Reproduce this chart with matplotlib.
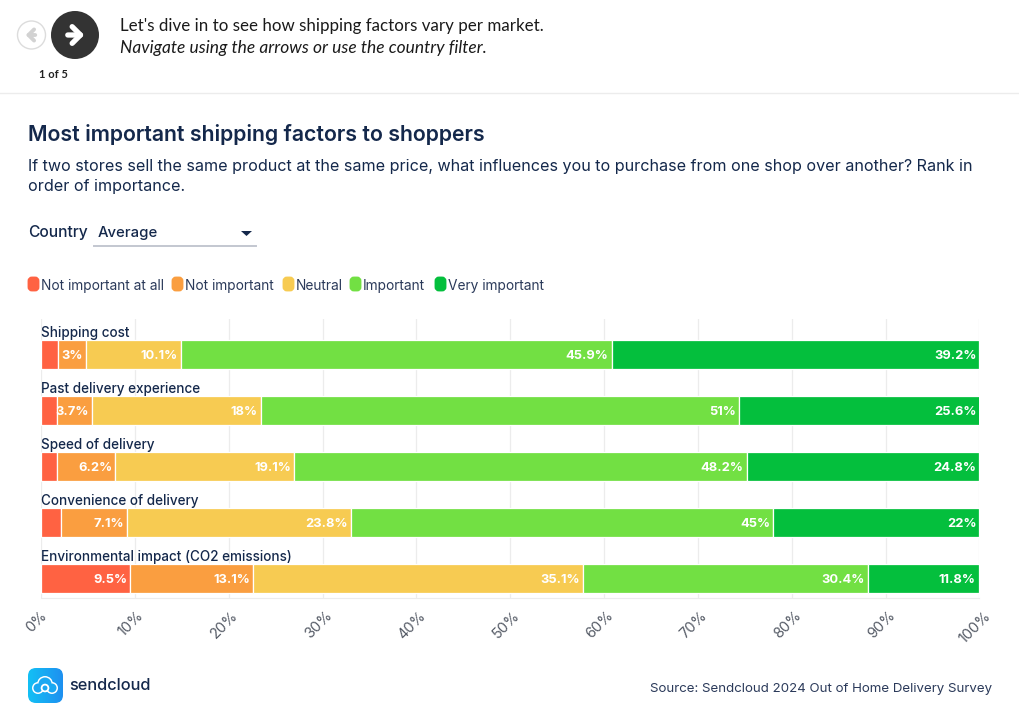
import matplotlib
matplotlib.use('Agg')
import matplotlib.pyplot as plt
from matplotlib.patches import Circle, FancyBboxPatch, Polygon
from matplotlib.transforms import ScaledTranslation
import numpy as np

factors = ['Shipping cost', 'Past delivery experience', 'Speed of delivery',
           'Convenience of delivery', 'Environmental impact (CO2 emissions)']
levels = ['Not important at all', 'Not important', 'Neutral', 'Important', 'Very important']
colors = ['#ff6242', '#fa9e40', '#f7cb52', '#72e043', '#04bf3d']

not_at_all = [1.8, 1.7, 1.7, 2.1, 9.5]
not_important = [3, 3.7, 6.2, 7.1, 13.1]
neutral = [10.1, 18, 19.1, 23.8, 35.1]
important = [45.9, 51, 48.2, 45, 30.4]
very_important = [39.2, 25.6, 24.8, 22, 11.8]
series = [not_at_all, not_important, neutral, important, very_important]

ticks = [0, 10, 20, 30, 40, 50, 60, 70, 80, 90, 100]

W, H = 1020, 721
navy = '#14284b'
plt.rcParams['font.family'] = ['Inter', 'DejaVu Sans']

fig = plt.figure(figsize=(W / 100, H / 100), dpi=100)

# page furniture, drawn in pixel coordinates
bg = fig.add_axes([0, 0, 1, 1])
bg.set_xlim(0, W)
bg.set_ylim(H, 0)
bg.axis('off')

bg.plot([0, W], [92.5, 92.5], color='#ececec', lw=1)
bg.add_patch(Circle((31.5, 35), 14, fc='white', ec='#dcdcdc', lw=1))
bg.annotate('', xy=(23, 35), xytext=(38, 35),
            arrowprops=dict(arrowstyle='->,head_width=0.4,head_length=0.4', color='#d2d2d2', lw=2.8))
bg.add_patch(Circle((75, 35), 24, fc='#333333', ec='none'))
bg.annotate('', xy=(87, 35), xytext=(65, 35),
            arrowprops=dict(arrowstyle='->,head_width=0.6,head_length=0.6', color='white', lw=3.8))
bg.text(53, 74, '1 of 5', fontsize=8, fontweight='bold', family='Lato', color='#222222', ha='center', va='center')
bg.text(120, 25.5, "Let's dive in to see how shipping factors vary per market.", fontsize=12.18, family='Lato',
        color='#1a1a1a', va='center')
bg.text(120, 48.5, 'Navigate using the arrows or use the country filter.', fontsize=12.55, family='Lato',
        style='italic', color='#1a1a1a', va='center')

bg.text(28, 134.5, 'Most important shipping factors to shoppers', fontsize=15.33, fontweight='semibold',
        color=navy, va='center')
bg.text(28, 166, 'If two stores sell the same product at the same price, what influences you to purchase '
        'from one shop over another? Rank in', fontsize=11.6, color=navy, va='center')
bg.text(28, 186, 'order of importance.', fontsize=11.6, color=navy, va='center')

bg.text(28, 237, 'Country', fontsize=11.2, fontweight='medium', color=navy, va='baseline')
bg.text(98, 237, 'Average', fontsize=10.7, fontweight='medium', color=navy, va='baseline')
bg.plot([94, 256], [245.5, 245.5], color='#c3c7d0', lw=1.4)
bg.add_patch(Polygon([[241, 231], [252, 231], [246.5, 236]], fc=navy, ec='none'))

legend_x = [28, 172, 283, 350, 435]
for x, lab, c in zip(legend_x, levels, colors):
    bg.add_patch(FancyBboxPatch((x + 2, 279), 7, 10, boxstyle='round,pad=0,rounding_size=2',
                                fc=c, ec=c, lw=3.5, mutation_aspect=1))
    bg.text(x + 13, 290, lab, fontsize=9.9, color='#2b3a5a', va='baseline')

# sendcloud logo
grad = np.linspace(0, 1, 64).reshape(1, -1)
im = bg.imshow(grad, extent=(28, 63, 703, 668), cmap=matplotlib.colors.LinearSegmentedColormap.from_list(
    'logo', ['#13c0f5', '#1e90f0']), aspect='auto', zorder=2)
clip = FancyBboxPatch((28, 668), 35, 35, boxstyle='round,pad=0,rounding_size=8', fc='none', ec='none',
                      transform=bg.transData)
bg.add_patch(clip)
im.set_clip_path(clip)
bg.set_xlim(0, W)
bg.set_ylim(H, 0)
lobes = [(38, 688, 4.5), (52, 688, 4.5), (45, 684, 6.5)]
for cx, cy, r in lobes:
    bg.add_patch(Circle((cx, cy), r + 1.5, fc='white', ec='none', zorder=3))
for cx, cy, r in lobes:
    bg.add_patch(Circle((cx, cy), r, fc='#1aa8f2', ec='none', zorder=4))
bg.add_patch(Circle((45, 688), 3.4, fc='#1aa8f2', ec='white', lw=1.3, zorder=5))
bg.text(69, 685, 'sendcloud', fontsize=11.8, fontweight='medium', color=navy, va='center')
bg.text(992, 689, 'Source: Sendcloud 2024 Out of Home Delivery Survey', fontsize=9.55, color='#2b3a5a',
        ha='right', va='center')

# chart
ax = fig.add_axes([41 / W, 1 - 597.5 / H, 938.5 / W, 279 / H])
ax.patch.set_alpha(0)
ypos = np.arange(len(factors))
left = np.zeros(len(factors))
for vals, lab, c in zip(series, levels, colors):
    ax.barh(ypos, vals, height=0.51, left=left, color=c, edgecolor='white', linewidth=0.9,
            label=lab, zorder=3)
    for y, v, l in zip(ypos, vals, left):
        if v >= 3:
            ax.annotate(f'{v:g}%', xy=(l + v, y), xytext=(-2.2, 0), textcoords='offset points',
                        ha='right', va='center_baseline', fontsize=9.3, fontweight='bold', color='white', zorder=4)
    left = left + np.array(vals)

for y, name in zip(ypos, factors):
    ax.annotate(name, xy=(0, y), xytext=(0, 15.6), textcoords='offset points', ha='left', va='center',
                fontsize=9.72, fontweight='medium', color=navy, zorder=5)

ax.set_xlim(0, 100)
ax.set_ylim((598 - 355) / 56, (319 - 355) / 56)
ax.set_xticks(ticks)
ax.set_xticklabels([f'{t}%' for t in ticks], rotation=45, ha='center', va='top', fontsize=10.5,
                   color='#555b66', rotation_mode='default')
ax.tick_params(axis='x', length=0, pad=8)
shift = ScaledTranslation(-4 / 100, 0, fig.dpi_scale_trans)
for tl in ax.get_xticklabels():
    tl.set_transform(tl.get_transform() + shift)
ax.set_yticks([])
ax.grid(axis='x', color='#ececec', lw=0.9, zorder=0)
ax.set_axisbelow(True)
for s in ['top', 'right', 'left']:
    ax.spines[s].set_visible(False)
ax.spines['bottom'].set_color('#ececec')

fig.savefig('out.png', dpi=100)
